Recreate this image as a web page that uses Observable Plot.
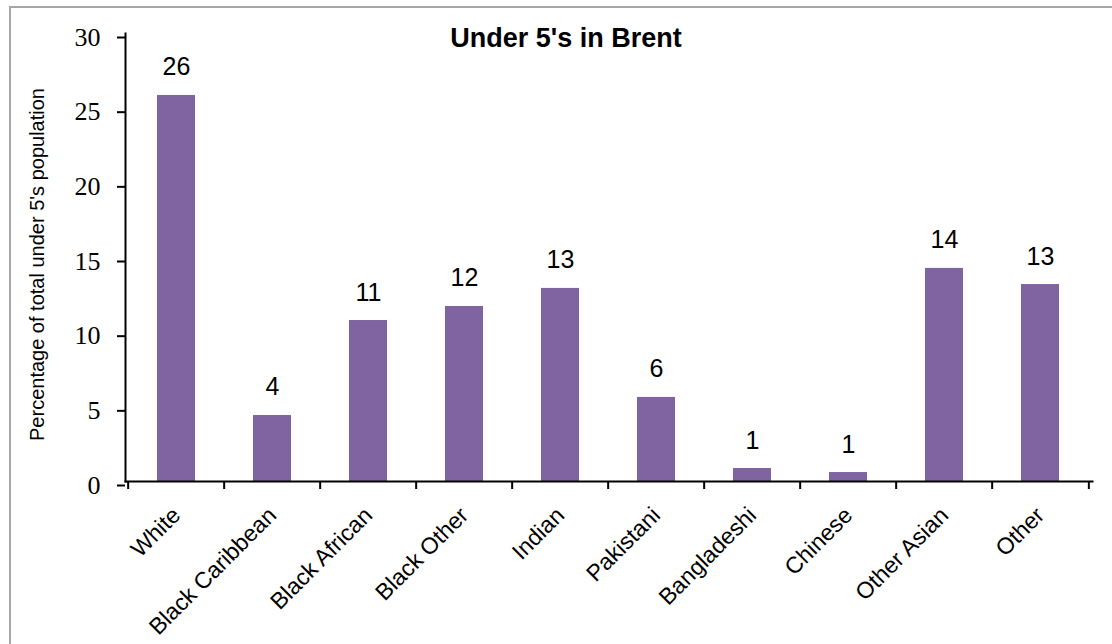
<!DOCTYPE html>
<html>
<head>
<meta charset="utf-8">
<script src="https://cdn.jsdelivr.net/npm/d3@7"></script>
<script src="https://cdn.jsdelivr.net/npm/@observablehq/plot@0.6"></script>
<style>
  html, body { margin: 0; padding: 0; background: #fff; }
  #wrap { position: relative; width: 1112px; height: 644px; overflow: hidden; }
  #border { position: absolute; left: 9px; top: 6px; width: 1200px; height: 800px;
            border-top: 2px solid #a6a6a6; border-left: 2px solid #a6a6a6; pointer-events: none; }
</style>
</head>
<body>
<div id="wrap"><div id="border"></div></div>
<script>
const title = "Under 5's in Brent";
const yTitle = "Percentage of total under 5's population";
const categories = ["White", "Black Caribbean", "Black African", "Black Other", "Indian",
                    "Pakistani", "Bangladeshi", "Chinese", "Other Asian", "Other"];
const values = [25.85, 4.42, 10.78, 11.72, 12.93, 5.63, 0.87, 0.6, 14.27, 13.19];
const valueLabels = ["26", "4", "11", "12", "13", "6", "1", "1", "14", "13"];
const yTicks = [0, 5, 10, 15, 20, 25, 30];

const data = categories.map((c, i) => ({cat: c, value: values[i], label: valueLabels[i]}));

const W = 1112, H = 644, mL = 125, mR = 20, mT = 33, mB = 163;
const step = (W - mL - mR) / categories.length;
const sans = "'Liberation Sans', Arial, sans-serif";
const serif = "'Liberation Serif', 'Times New Roman', serif";

const chart = Plot.plot({
  width: W, height: H,
  marginLeft: mL, marginRight: mR, marginTop: mT, marginBottom: mB,
  style: {fontFamily: sans, fontSize: "22px", color: "#000", background: "transparent", overflow: "visible"},
  x: {domain: categories, paddingInner: 0.6, paddingOuter: 0.3},
  y: {domain: [0, 30]},
  marks: [
    Plot.barY(data, {x: "cat", y: "value", fill: "#8064A2"}),
    Plot.text(data, {x: "cat", y: "value", text: "label", dy: -20, lineAnchor: "bottom",
                     fontSize: 25, fontFamily: sans, fill: "#000"}),
    Plot.frame({anchor: "left", stroke: "#000", strokeWidth: 2}),
    Plot.frame({anchor: "bottom", stroke: "#000", strokeWidth: 2}),
    Plot.axisY({ticks: yTicks, tickSize: 8, tickPadding: 17, dy: 4, label: null,
                fontSize: 26, fontFamily: serif, strokeWidth: 2, stroke: "#000"}),
    Plot.axisX({tickSize: 8, tickFormat: () => "", dx: -step / 2, label: null, strokeWidth: 2, stroke: "#000"}),
    Plot.axisX({ticks: [categories[categories.length - 1]], tickSize: 8, tickFormat: () => "",
                dx: step / 2, label: null, strokeWidth: 2, stroke: "#000"}),
    Plot.axisX({tickSize: 0, tickRotate: -45, tickPadding: 30, label: null, fontSize: 23, fontFamily: sans}),
    Plot.text([title], {frameAnchor: "top", dx: -43, dy: 13, lineAnchor: "bottom", text: d => d,
                        fontSize: 27, fontWeight: "bold", fontFamily: sans, fill: "#000"}),
    Plot.text([yTitle], {frameAnchor: "left", dx: -88, dy: 7, rotate: -90, text: d => d,
                         textAnchor: "middle", lineAnchor: "middle",
                         fontSize: 20, fontFamily: sans, fill: "#000"})
  ]
});
chart.style.position = "absolute";
chart.style.left = "0px";
chart.style.top = "0px";
document.getElementById("wrap").appendChild(chart);
</script>
</body>
</html>
